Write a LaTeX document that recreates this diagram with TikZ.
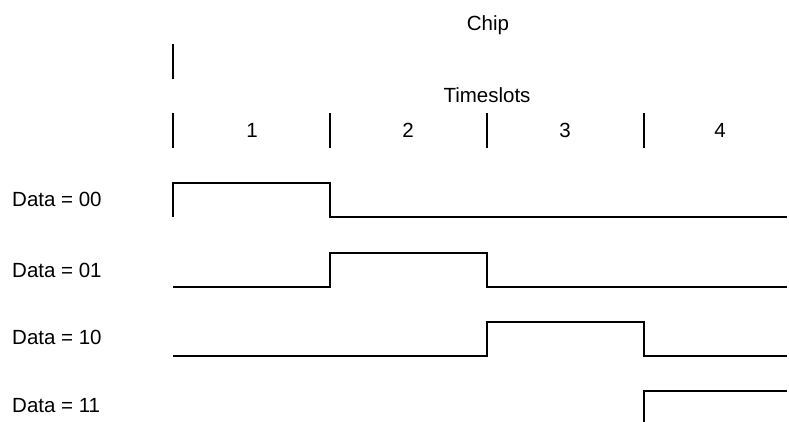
\documentclass[tikz,border=0pt]{standalone}
\usepackage{fontspec}
\setmainfont{Liberation Sans}
\begin{document}
\begin{tikzpicture}[x=1pt,y=-1pt,
  lbl/.style={font=\fontsize{20.5}{24}\selectfont, inner sep=0pt},
  wave/.style={line width=2pt, line join=miter},
  tickmark/.style={line width=2pt}]
\useasboundingbox (0,0) rectangle (789,421);
% headings
\node[lbl] (chip) at (488,25) {Chip};
\draw[tickmark] (173,44) -- (173,79);
\node[lbl] (ts) at (487,95) {Timeslots};
% timeslot ticks
\coordinate (t0) at (173,113);
\coordinate (t1) at (330,113);
\coordinate (t2) at (487,113);
\coordinate (t3) at (644,113);
\foreach \c in {t0,t1,t2,t3} \draw[tickmark] (\c) -- ++(0,35);
\node[lbl] (n1) at (252,130) {1};
\node[lbl] (n2) at (408,130) {2};
\node[lbl] (n3) at (565,130) {3};
\node[lbl] (n4) at (720,130) {4};
% data labels
\node[lbl, anchor=west] (d00) at (12,199) {Data = 00};
\node[lbl, anchor=west] (d01) at (12,270) {Data = 01};
\node[lbl, anchor=west] (d10) at (12,337) {Data = 10};
\node[lbl, anchor=west] (d11) at (12,406) {Data = 11};
% waveforms
\draw[wave] (173,217) -- (173,183) -- (330,183) -- (330,217) -- (787,217);
\draw[wave] (173,287) -- (330,287) -- (330,253) -- (487,253) -- (487,287) -- (787,287);
\draw[wave] (173,356) -- (487,356) -- (487,322) -- (644,322) -- (644,356) -- (787,356);
\draw[wave] (644,423) -- (644,391) -- (787,391);
\end{tikzpicture}
\end{document}
